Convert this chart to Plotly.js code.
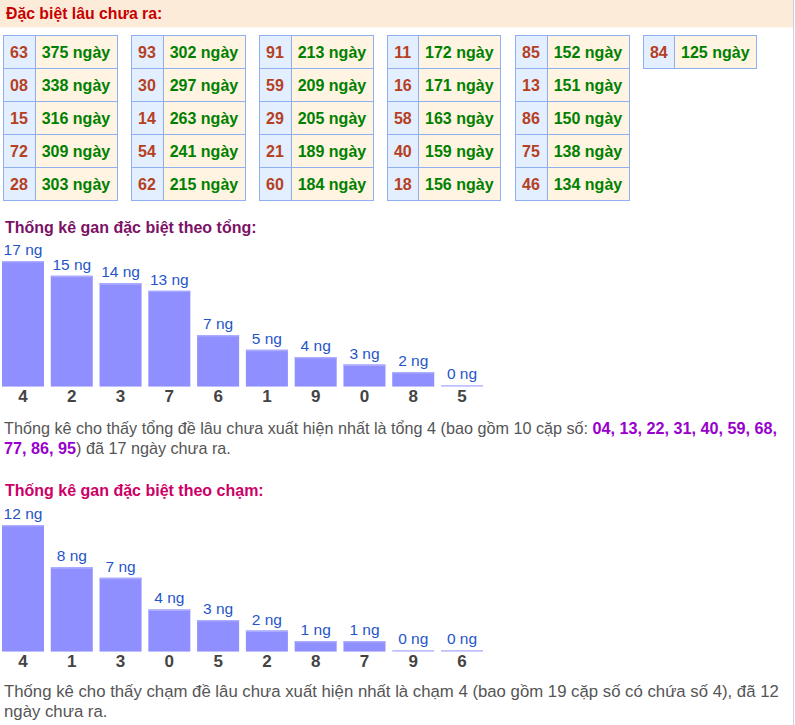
<!DOCTYPE html>
<html>
<head>
<meta charset="utf-8">
<script src="https://cdn.plot.ly/plotly-3.0.1.min.js"></script>
<style>
html,body{margin:0;padding:0;background:#fff;}
#chart{width:795px;height:725px;}
</style>
</head>
<body>
<div id="chart"></div>
<script>
// ---- data: "Đặc biệt lâu chưa ra" table (6 column groups) ----
const groupNums = [
  ['63','08','15','72','28'],
  ['93','30','14','54','62'],
  ['91','59','29','21','60'],
  ['11','16','58','40','18'],
  ['85','13','86','75','46'],
  ['84']
];
const groupDays = [
  [375,338,316,309,303],
  [302,297,263,241,215],
  [213,209,205,189,184],
  [172,171,163,159,156],
  [152,151,150,138,134],
  [125]
];
// ---- data: gan theo tổng ----
const tongCats = ['4','2','3','7','6','1','9','0','8','5'];
const tongVals = [17,15,14,13,7,5,4,3,2,0];
// ---- data: gan theo chạm ----
const chamCats = ['4','1','3','0','5','2','8','7','9','6'];
const chamVals = [12,8,7,4,3,2,1,1,0,0];
const tongPairs = '04, 13, 22, 31, 40, 59, 68,';
const tongPairs2 = '77, 86, 95';

const W = 795, H = 725;
const FONT = 'Liberation Sans, Arial, sans-serif';
const px = v => v / W;
const py = v => 1 - v / H;
const NB = '\u00a0';

const traces = [];
const rowH = 32.4;
groupNums.forEach((nums, g) => {
  const days = groupDays[g].map(d => '<b>' + d + NB + 'ngày</b>');
  const n = nums.map(s => '<b>' + s + '</b>');
  traces.push({
    type: 'table',
    domain: {x: [px(3 + 128 * g), px(117 + 128 * g)], y: [py(205), py(35.5)]},
    columnwidth: [32, 82],
    header: {
      values: [n[0], days[0]],
      height: rowH,
      align: 'center',
      fill: {color: ['#e3eefe', '#fff4e1']},
      line: {color: '#8fb0f0', width: 1},
      font: {family: FONT, size: 16, color: ['#b5401f', '#008000']}
    },
    cells: {
      values: [n.slice(1), days.slice(1)],
      height: rowH,
      align: 'center',
      fill: {color: ['#e3eefe', '#fff4e1']},
      line: {color: '#8fb0f0', width: 1},
      font: {family: FONT, size: 16, color: ['#b5401f', '#008000']}
    }
  });
});

function barPair(cats, vals, xa, ya, eps) {
  return [
    {
      type: 'bar', x: cats, y: vals, xaxis: xa, yaxis: ya,
      marker: {color: '#8f8fff', line: {width: 0}},
      hoverinfo: 'skip', showlegend: false
    },
    {
      type: 'bar', x: cats, y: vals.map(() => eps),
      base: vals.map(v => v > 0 ? v - eps : 0),
      xaxis: xa, yaxis: ya,
      marker: {color: '#ababff', line: {width: 0}},
      text: vals.map(v => v + ' ng'),
      textposition: 'outside',
      cliponaxis: false,
      constraintext: 'none',
      textangle: 0,
      outsidetextfont: {family: FONT, size: 15.5, color: '#1f55c8'},
      hoverinfo: 'skip', showlegend: false
    }
  ];
}
traces.push(...barPair(tongCats, tongVals, 'x', 'y', 0.2));
traces.push(...barPair(chamCats, chamVals, 'x2', 'y2', 0.14));

const pitch = 48.78;
const xr = [-23 / pitch, -23 / pitch + 490 / pitch];
const xaxisBase = {
  type: 'category', range: xr, domain: [0, px(490)],
  showgrid: false, zeroline: false, showline: false, ticks: '',
  ticklabelstandoff: -3,
  tickfont: {family: FONT, size: 17, color: '#444', weight: 'bold'},
  fixedrange: true
};
const yaxisBase = {
  showgrid: false, zeroline: false, showline: false, showticklabels: false,
  ticks: '', fixedrange: true
};

const base1 = 386.7, top1 = 238, k1 = 7.39;
const base2 = 651.7, top2 = 505, k2 = 10.56;

const ann = (text, x, y, opts) => Object.assign({
  text: text, xref: 'paper', yref: 'paper', x: px(x), y: py(y),
  xanchor: 'left', yanchor: 'middle', showarrow: false, align: 'left',
  font: {family: FONT, size: 16.2, color: '#555'}
}, opts || {});

const layout = {
  width: W, height: H,
  margin: {l: 0, r: 0, t: 0, b: 0},
  paper_bgcolor: '#fff', plot_bgcolor: 'rgba(0,0,0,0)',
  showlegend: false,
  barmode: 'overlay',
  bargap: 0.139,
  xaxis: Object.assign({}, xaxisBase, {anchor: 'y'}),
  yaxis: Object.assign({}, yaxisBase, {anchor: 'x', domain: [py(base1), py(top1)], range: [0, (base1 - top1) / k1]}),
  xaxis2: Object.assign({}, xaxisBase, {anchor: 'y2'}),
  yaxis2: Object.assign({}, yaxisBase, {anchor: 'x2', domain: [py(base2), py(top2)], range: [0, (base2 - top2) / k2]}),
  shapes: [
    {type: 'rect', xref: 'paper', yref: 'paper', x0: 0, x1: px(793), y0: py(27.5), y1: 1,
     fillcolor: '#fcebd8', line: {width: 0}, layer: 'below'},
    {type: 'line', xref: 'paper', yref: 'paper', x0: px(793.5), x1: px(793.5), y0: 0, y1: 1,
     line: {color: '#c9d3e6', width: 1}}
  ],
  annotations: [
    ann('<b>Đặc biệt lâu chưa ra:</b>', 4, 13.5, {font: {family: FONT, size: 15.8, color: '#c80000'}}),
    ann('<b>Thống kê gan đặc biệt theo tổng:</b>', 3, 227.5, {font: {family: FONT, size: 16, color: '#7b1266'}}),
    ann('Thống kê cho thấy tổng đề lâu chưa xuất hiện nhất là tổng 4 (bao gồm 10 cặp số: <b><span style="color:#9900cc">' + tongPairs + '</span></b>', 2, 428),
    ann('<b><span style="color:#9900cc">' + tongPairs2 + '</span></b>) đã 17 ngày chưa ra.', 2, 448),
    ann('<b>Thống kê gan đặc biệt theo chạm:</b>', 3, 490.5, {font: {family: FONT, size: 16, color: '#cc0066'}}),
    ann('Thống kê cho thấy chạm đề lâu chưa xuất hiện nhất là chạm 4 (bao gồm 19 cặp số có chứa số 4), đã 12', 2, 691.5, {font: {family: FONT, size: 16.75, color: '#555'}}),
    ann('ngày chưa ra.', 2, 711.5, {font: {family: FONT, size: 16.75, color: '#555'}})
  ]
};

Plotly.newPlot('chart', traces, layout, {staticPlot: true, displayModeBar: false});
</script>
</body>
</html>
